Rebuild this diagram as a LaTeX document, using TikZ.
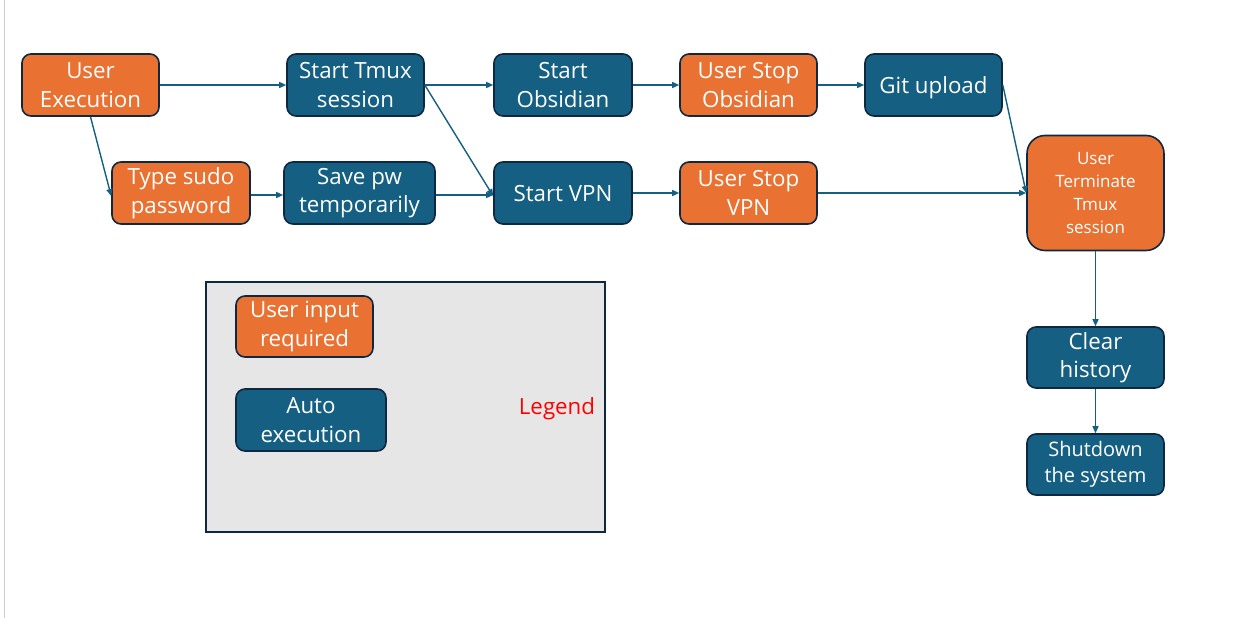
\documentclass[tikz,border=0pt]{standalone}
\usepackage{fontspec}
\setmainfont{Open Sans}
\usetikzlibrary{arrows.meta}
\definecolor{oorange}{HTML}{E97132}
\definecolor{oblue}{HTML}{156082}
\definecolor{odark}{HTML}{0E2841}
\definecolor{legbg}{HTML}{E7E6E6}
\tikzset{
  box/.style={draw=odark, line width=1.6pt, rounded corners=9pt, text=white, align=center,
    inner sep=0pt, font=\fontsize{22.3}{28.5}\selectfont},
  userbox/.style={box, fill=oorange},
  autobox/.style={box, fill=oblue},
  oneline/.style={text height=16pt, text depth=0pt},
  conn/.style={draw=oblue, line width=1.4pt, -{Triangle[length=7pt,width=6pt]}},
}
\begin{document}
\begin{tikzpicture}[x=1pt,y=-1pt]
\useasboundingbox (0,0) rectangle (1237,618);
\fill[white] (0,0) rectangle (1237,618);
\draw[gray!40, line width=1pt] (4,0) -- (4,618);
% legend
\node[draw=odark, line width=1.6pt, fill=legbg, minimum width=399pt, minimum height=250pt, inner sep=0pt] (legend) at (405.5,407) {};
\node[userbox, minimum width=137pt, minimum height=61pt] (leguser) at (304.5,326.5) {User input\\required};
\node[autobox, minimum width=150pt, minimum height=62pt] (legauto) at (311,420) {Auto\\execution};
\node[text=red, font=\fontsize{22.3}{24}\selectfont] (legtext) at (557,409) {Legend};
% row 1
\node[userbox, minimum width=137pt, minimum height=62pt] (exec) at (90.5,85) {User\\Execution};
\node[autobox, minimum width=137pt, minimum height=62pt] (tmux) at (355.5,85) {Start Tmux\\session};
\node[autobox, minimum width=138pt, minimum height=62pt] (obs) at (563,85) {Start\\Obsidian};
\node[userbox, minimum width=137pt, minimum height=62pt] (stopobs) at (748.5,85) {User Stop\\Obsidian};
\node[autobox, oneline, minimum width=137pt, minimum height=62pt] (git) at (933.5,85) {Git upload};
% row 2
\node[userbox, minimum width=138pt, minimum height=62pt] (sudo) at (181,193) {Type sudo\\password};
\node[autobox, minimum width=151pt, minimum height=62pt] (save) at (359.5,193) {Save pw\\temporarily};
\node[autobox, oneline, minimum width=138pt, minimum height=62pt] (vpn) at (563,193) {Start VPN};
\node[userbox, minimum width=137pt, minimum height=62pt] (stopvpn) at (748.5,193) {User Stop\\VPN};
% right column
\node[userbox, rounded corners=18pt, minimum width=137pt, minimum height=115pt, font=\fontsize{17}{22.7}\selectfont] (term) at (1095.5,193) {User\\Terminate\\Tmux\\session};
\node[autobox, minimum width=137pt, minimum height=61pt] (clear) at (1095.5,357.5) {Clear\\history};
\node[autobox, minimum width=137pt, minimum height=61pt, font=\fontsize{20}{26}\selectfont] (shut) at (1095.5,464.5) {Shutdown\\the system};
% connectors
\draw[conn] (exec.east) -- (tmux.west);
\draw[conn] (exec.south) -- ([yshift=-3pt]sudo.west);
\draw[conn] ([yshift=-2pt]sudo.east) -- ([yshift=-2pt]save.west);
\draw[conn] (tmux.east) -- (obs.west);
\draw[conn] (tmux.east) -- ([yshift=-3pt]vpn.west);
\draw[conn] ([yshift=-2pt]save.east) -- ([yshift=-2pt]vpn.west);
\draw[conn] (obs.east) -- (stopobs.west);
\draw[conn] (vpn.east) -- (stopvpn.west);
\draw[conn] (stopobs.east) -- (git.west);
\draw[conn] (git.east) -- (term.west);
\draw[conn] (stopvpn.east) -- (term.west);
\draw[conn] (term.south) -- (clear.north);
\draw[conn] (clear.south) -- (shut.north);
\end{tikzpicture}
\end{document}
